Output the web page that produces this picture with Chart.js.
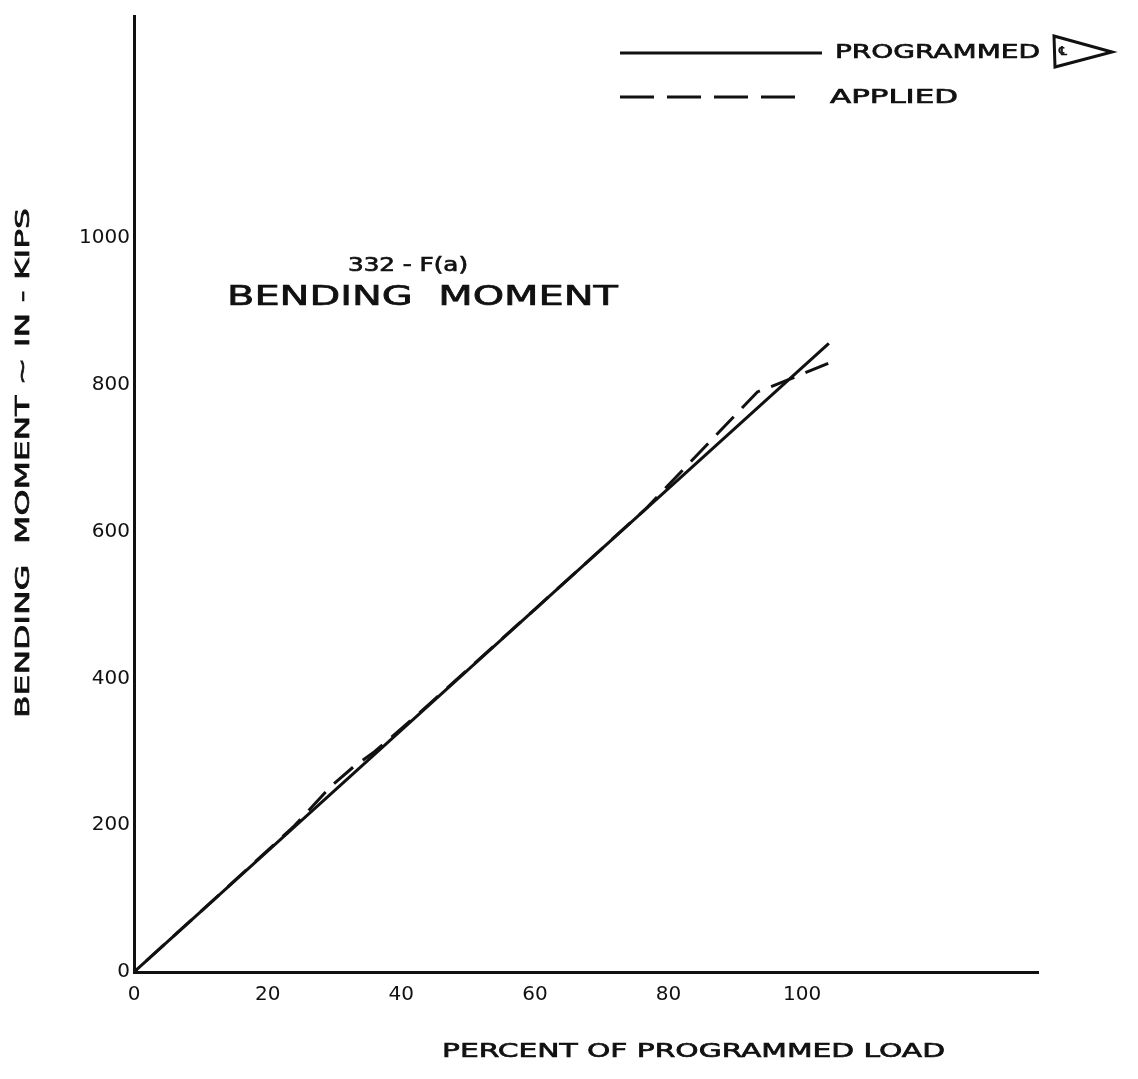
<!DOCTYPE html>
<html>
<head>
<meta charset="utf-8">
<title>Bending moment</title>
<script src="https://cdn.jsdelivr.net/npm/chart.js@4/dist/chart.umd.min.js"></script>
<style>
  body { margin: 0; background: #fff; }
  canvas { display: block; }
</style>
</head>
<body>
<canvas id="chart" width="1138" height="1079"></canvas>
<script>
// DATA
const xTicks = [0, 20, 40, 60, 80, 100];
const yTicks = [0, 200, 400, 600, 800, 1000];

const programmedLoad = [0, 104];
const programmedMoment = [0, 856];

const appliedLoad = [0, 12, 24, 29.6, 32.8, 36, 42, 60, 76.5, 93.3, 97.5, 103.9];
const appliedMoment = [0, 99, 199, 254, 279, 300, 347, 494, 630, 790, 805, 829];

const seriesNames = ["PROGRAMMED", "APPLIED"];
const chartTitle = "BENDING  MOMENT";
const chartSubtitle = "332 - F(a)";
const xTitle = "PERCENT OF PROGRAMMED LOAD";
const yTitle = "BENDING  MOMENT ~ IN - KIPS";

const INK = "#111";
const FONT = '"DejaVu Sans", sans-serif';

function toPoints(xs, ys) {
  return xs.map((x, i) => ({ x: x, y: ys[i] }));
}

// text stretched to the span it has in the hand lettering
function wideText(ctx, text, left, right, y, size, rotated) {
  ctx.save();
  ctx.font = size + "px " + FONT;
  ctx.fillStyle = INK;
  ctx.strokeStyle = INK;
  ctx.lineWidth = 0.7;
  ctx.textBaseline = "middle";
  ctx.textAlign = "left";
  const stretch = Math.abs(right - left) / ctx.measureText(text).width;
  if (rotated) {
    ctx.translate(y, left);
    ctx.rotate(-Math.PI / 2);
  } else {
    ctx.translate(left, y);
  }
  ctx.scale(stretch, 1);
  ctx.fillText(text, 0, 0);
  ctx.strokeText(text, 0, 0);
  ctx.restore();
}

function keyLine(ctx, x1, x2, y, dash) {
  ctx.save();
  ctx.strokeStyle = INK;
  ctx.lineWidth = 3;
  ctx.setLineDash(dash);
  ctx.beginPath();
  ctx.moveTo(x1, y);
  ctx.lineTo(x2, y);
  ctx.stroke();
  ctx.restore();
}

// LEGEND, TITLES AND AXIS NAMES
const sheetText = {
  id: "sheetText",
  afterDraw(chart) {
    const ctx = chart.ctx;

    keyLine(ctx, 620, 822, 53, []);
    keyLine(ctx, 620, 808, 97, [34, 13]);
    wideText(ctx, seriesNames[0], 835, 1040, 53, 20);
    wideText(ctx, seriesNames[1], 830, 958, 98, 20);

    // centerline flag after the legend
    ctx.save();
    ctx.strokeStyle = INK;
    ctx.lineWidth = 3;
    ctx.beginPath();
    ctx.moveTo(1054, 36);
    ctx.lineTo(1112, 52);
    ctx.lineTo(1055, 67);
    ctx.closePath();
    ctx.stroke();
    ctx.restore();
    wideText(ctx, "\u2104", 1059, 1067, 52, 12);

    wideText(ctx, chartSubtitle, 348, 468, 266, 19);
    wideText(ctx, chartTitle, 227, 618, 298, 27);
    wideText(ctx, xTitle, 442, 945, 1052, 20);
    wideText(ctx, yTitle, 718, 208, 24, 20, true);
  }
};

new Chart(document.getElementById("chart"), {
  type: "line",
  data: {
    datasets: [
      {
        label: seriesNames[0],
        data: toPoints(programmedLoad, programmedMoment),
        borderColor: INK,
        borderWidth: 3,
        pointRadius: 0,
        tension: 0
      },
      {
        label: seriesNames[1],
        data: toPoints(appliedLoad, appliedMoment),
        borderColor: INK,
        borderWidth: 3,
        borderDash: [25, 12],
        borderDashOffset: 21,
        pointRadius: 0,
        tension: 0
      }
    ]
  },
  options: {
    responsive: false,
    animation: false,
    layout: { padding: { left: 0, top: 15, right: 100, bottom: 0 } },
    plugins: {
      legend: { display: false },
      tooltip: { enabled: false }
    },
    scales: {
      x: {
        type: "linear",
        min: 0,
        max: 135.3,
        grid: { display: false, drawTicks: false },
        border: { color: INK, width: 3 },
        afterFit(scale) { scale.height = 107; },
        afterBuildTicks(scale) { scale.ticks = xTicks.map(v => ({ value: v })); },
        ticks: {
          color: INK,
          padding: 11,
          maxRotation: 0,
          callback: v => String(v),
          font: { family: FONT, size: 20 }
        }
      },
      y: {
        type: "linear",
        min: 0,
        max: 1302,
        grid: { display: false, drawTicks: false },
        border: { color: INK, width: 3 },
        afterFit(scale) { scale.width = 134; },
        afterBuildTicks(scale) { scale.ticks = yTicks.map(v => ({ value: v })); },
        ticks: {
          color: INK,
          padding: 4,
          callback: v => String(v),
          font: { family: FONT, size: 20 }
        }
      }
    }
  },
  plugins: [sheetText]
});
</script>
</body>
</html>
